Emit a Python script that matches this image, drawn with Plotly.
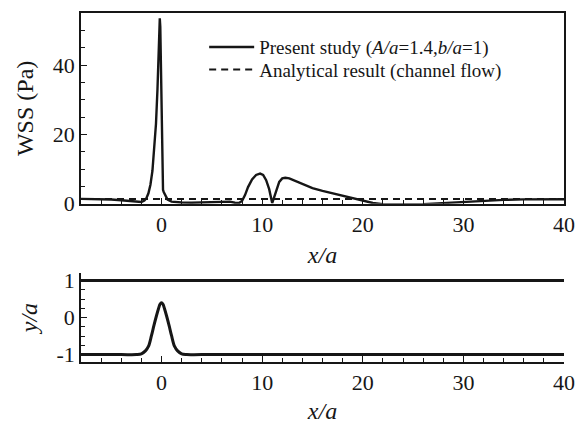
import plotly.graph_objects as go

# WSS along the lower wall
wss_x = [-8, -7, -6, -5, -4, -3, -2.5, -2, -1.7, -1.5, -1.3, -1.1, -0.9, -0.7, -0.55, -0.4, -0.3, -0.22, -0.17,
         -0.12, -0.06, 0.0, 0.05, 0.1, 0.15, 0.22, 0.3, 0.4, 0.6, 1.0, 1.5, 2, 3, 4, 5, 6, 6.8, 7.3, 7.7,
         8.0, 8.3, 8.6, 9.0, 9.4, 9.8, 10.1, 10.4, 10.7, 10.9, 11.0, 11.15, 11.4, 11.7, 12.0, 12.3, 12.7,
         13.2, 14, 15, 16, 17, 18, 19, 20, 21, 22, 23, 24, 26, 28, 30, 32, 34, 36, 38, 40]
wss_y = [1.4, 1.4, 1.3, 1.2, 1.0, 0.7, 0.5, 0.5, 0.9, 1.6, 3.0, 5.5, 9.5, 16, 23, 33, 42, 50, 53.5,
         51, 40, 25, 14, 7, 4.0, 3.4, 3.0, 2.2, 1.2, 0.6, 0.4, 0.35, 0.3, 0.4, 0.5, 0.7, 0.6, 0.3, 0.2,
         0.8, 2.5, 4.8, 7.0, 8.3, 8.7, 8.3, 6.8, 4.2, 1.8, 0.2, 1.5, 4.0, 6.3, 7.3, 7.5, 7.3,
         6.7, 5.6, 4.5, 3.7, 3.0, 2.3, 1.5, 0.7, 0.2, -0.1, -0.2, -0.2, -0.1, 0.2, 0.6, 0.9, 1.1, 1.25, 1.3, 1.3]

# analytical channel-flow WSS
ana_x = [-8, 40]
ana_y = [1.35, 1.35]

# channel geometry
top_wall_x = [-8, 40]
top_wall_y = [1, 1]
bot_wall_x = [-8, -4, -2.5, -2.0, -1.6, -1.3, -1.0, -0.75, -0.5, -0.3, -0.15, 0, 0.15, 0.3, 0.5, 0.75,
              1.0, 1.3, 1.6, 2.0, 2.5, 4, 40]
bot_wall_y = [-1, -1, -1, -0.98, -0.9, -0.78, -0.49, -0.21, 0.05, 0.24, 0.36, 0.4, 0.36, 0.24, 0.05, -0.21,
              -0.49, -0.78, -0.9, -0.98, -1, -1, -1]

x_ticks = [0, 10, 20, 30, 40]
wss_ticks = [0, 20, 40]
ya_ticks = [-1, 0, 1]
ya_ticktext = ["-1", "0", "1"]

FONT = "Liberation Serif, Times New Roman, serif"
BLACK = "#161616"

fig = go.Figure()
fig.add_trace(go.Scatter(x=wss_x, y=wss_y, mode="lines", line=dict(color=BLACK, width=2.4),
                         name="Present study (<i>A/a</i>=1.4,<i>b/a</i>=1)", xaxis="x", yaxis="y",
                         legend="legend"))
fig.add_trace(go.Scatter(x=ana_x, y=ana_y, mode="lines", line=dict(color=BLACK, width=2, dash="7px,5px"),
                         name="Analytical result (channel flow)", xaxis="x", yaxis="y",
                         legend="legend2"))
fig.add_trace(go.Scatter(x=top_wall_x, y=top_wall_y, mode="lines", line=dict(color=BLACK, width=3),
                         showlegend=False, xaxis="x2", yaxis="y2"))
fig.add_trace(go.Scatter(x=bot_wall_x, y=bot_wall_y, mode="lines", line=dict(color=BLACK, width=3, shape="spline"),
                         showlegend=False, xaxis="x2", yaxis="y2"))

tickfont = dict(family=FONT, size=22, color=BLACK)
titlefont = dict(family=FONT, size=24, color=BLACK)
common_x = dict(range=[-8, 40], tickvals=x_ticks, ticks="inside", ticklen=6,
                tickcolor=BLACK, showline=True, linecolor=BLACK, linewidth=1.5, showgrid=False,
                zeroline=False, tickfont=tickfont,
                minor=dict(dtick=2, tick0=0, ticks="inside", ticklen=4, tickcolor=BLACK, showgrid=False))
legfont = dict(family=FONT, size=19, color=BLACK)

fig.update_layout(
    width=586, height=428,
    margin=dict(l=81, r=22, t=8, b=65),
    paper_bgcolor="white", plot_bgcolor="white",
    font=dict(family=FONT, color=BLACK),
    showlegend=True,
    legend=dict(x=0.255, y=0.902, xanchor="left", yanchor="middle", bgcolor="rgba(0,0,0,0)",
                font=legfont, itemwidth=45, borderwidth=0),
    legend2=dict(x=0.255, y=0.838, xanchor="left", yanchor="middle", bgcolor="rgba(0,0,0,0)",
                 font=legfont, itemwidth=45, borderwidth=0),
    xaxis=dict(common_x, domain=[0, 1], anchor="y", mirror=True,
               title=dict(text="<i>x/a</i>", font=titlefont, standoff=10)),
    yaxis=dict(domain=[0.4535, 1], anchor="x", range=[0, 55], tickvals=wss_ticks, ticks="inside",
               ticklen=6, tickcolor=BLACK, showline=True, linecolor=BLACK, linewidth=1.5, mirror=True,
               showgrid=False, zeroline=False, tickfont=tickfont,
               minor=dict(dtick=5, tick0=0, ticks="inside", ticklen=4, tickcolor=BLACK, showgrid=False),
               title=dict(text="WSS (Pa)", font=titlefont, standoff=12)),
    xaxis2=dict(common_x, domain=[0, 1], anchor="y2",
                title=dict(text="<i>x/a</i>", font=titlefont, standoff=8)),
    yaxis2=dict(domain=[0, 0.2544], anchor="x2", range=[-1.2, 1.2], tickvals=ya_ticks, ticktext=ya_ticktext,
                ticks="inside", ticklen=6, tickcolor=BLACK, showline=True, linecolor=BLACK, linewidth=1.5,
                showgrid=False, zeroline=False, tickfont=tickfont,
                minor=dict(dtick=0.25, tick0=0, ticks="inside", ticklen=4, tickcolor=BLACK, showgrid=False),
                title=dict(text="<i>y/a</i>", font=titlefont, standoff=12)),
)

fig.write_html("out.html")
